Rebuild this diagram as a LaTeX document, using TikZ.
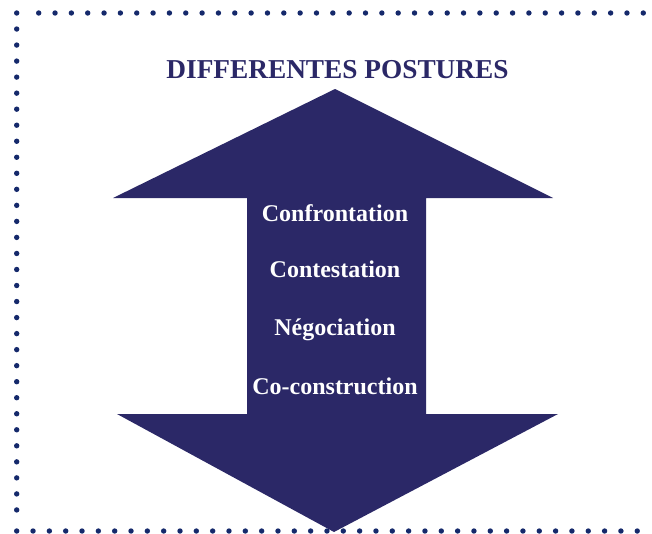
\documentclass[tikz,border=0pt]{standalone}
\usepackage{fontspec}
\setmainfont{Liberation Serif}
\definecolor{navy}{HTML}{2B2867}
\definecolor{dotblue}{HTML}{15296B}
\begin{document}
\begin{tikzpicture}[x=1pt,y=-1pt,
  dotmark/.style={fill=dotblue,draw=none},
  titletext/.style={anchor=base,inner sep=0pt,text=navy,font=\bfseries\fontsize{27.3}{32}\selectfont},
  posture/.style={anchor=base,inner sep=0pt,text=white,font=\bfseries\fontsize{24}{28}\selectfont}]
\useasboundingbox (0,0) rectangle (652,533);
% dotted frame: top, left and bottom edges
\fill[dotmark] (16.7,13) circle (2.7);
\foreach \i in {0,...,37} \fill[dotmark] (38.7+16.34*\i,13) circle (2.7);
\foreach \i in {1,...,31} \fill[dotmark] (16.7,13+16.03*\i) circle (2.7);
\foreach \i in {0,...,38} \fill[dotmark] (16.7+16.33*\i,531) circle (2.7);
% double-headed arrow
\fill[navy] (335,89) -- (553,198) -- (426,198) -- (426,414) -- (558,414)
  -- (334,532) -- (117,414) -- (247,414) -- (247,198) -- (113,198) -- cycle;
% labels
\node[titletext] (title) at (337.5,78) {DIFFERENTES POSTURES};
\node[posture] (p1) at (335,221) {Confrontation};
\node[posture] (p2) at (335,277) {Contestation};
\node[posture] (p3) at (335,335) {Négociation};
\node[posture] (p4) at (335,394) {Co-construction};
\end{tikzpicture}
\end{document}
